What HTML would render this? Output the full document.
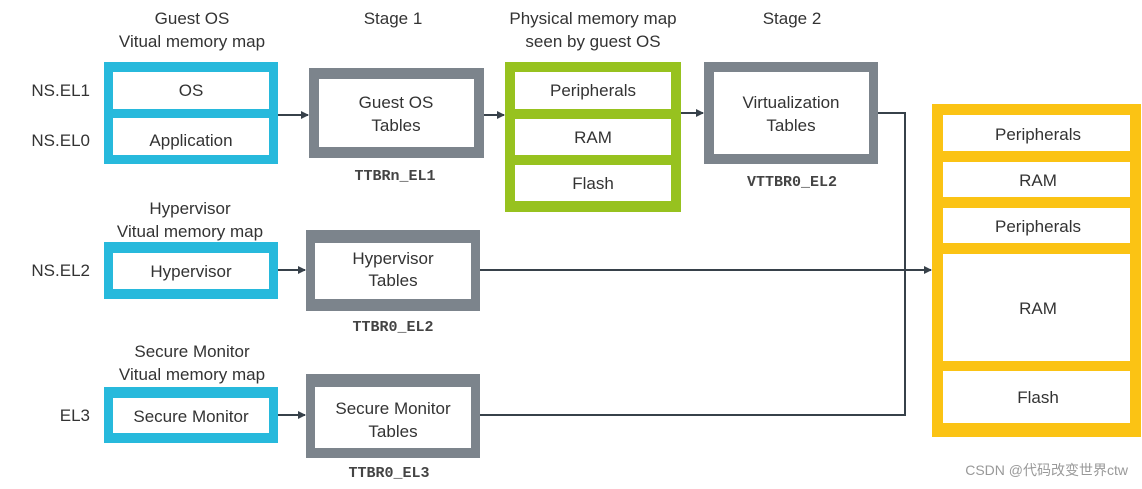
<!DOCTYPE html>
<html><head><meta charset="utf-8"><style>
html,body{margin:0;padding:0;background:#fff;}
svg{display:block;}
text{font-family:"Liberation Sans","DejaVu Sans",sans-serif;fill:#333;font-size:17px;}
.m{font-family:"Liberation Mono",monospace;font-weight:bold;font-size:15px;fill:#444;}
</style></head><body>
<svg width="1142" height="489" viewBox="0 0 1142 489" xmlns="http://www.w3.org/2000/svg">
<defs><marker id="a" markerWidth="8" markerHeight="8" refX="7" refY="4" orient="auto" markerUnits="userSpaceOnUse"><path d="M0,0 L8,4 L0,8 z" fill="#37414a"/></marker></defs>
<g text-anchor="middle">
<text x="192" y="24">Guest OS</text><text x="192" y="47">Vitual memory map</text>
<text x="393" y="24">Stage 1</text>
<text x="593" y="24">Physical memory map</text><text x="593" y="47">seen by guest OS</text>
<text x="792" y="24">Stage 2</text>
<text x="190" y="214">Hypervisor</text><text x="190" y="237">Vitual memory map</text>
<text x="192" y="357">Secure Monitor</text><text x="192" y="380">Vitual memory map</text>
</g>
<g text-anchor="end">
<text x="90" y="96">NS.EL1</text><text x="90" y="146">NS.EL0</text>
<text x="90" y="276">NS.EL2</text><text x="90" y="421">EL3</text>
</g>
<!-- cyan boxes -->
<g fill="#27b9dc">
<rect x="104" y="62" width="174" height="102"/>
<rect x="104" y="242" width="174" height="57"/>
<rect x="104" y="387" width="174" height="56"/>
</g>
<g fill="#fff">
<rect x="113" y="72" width="156" height="37"/><rect x="113" y="118" width="156" height="37"/>
<rect x="113" y="253" width="156" height="36"/><rect x="113" y="398" width="156" height="35"/>
</g>
<!-- gray tables -->
<g fill="#7c848c">
<rect x="309" y="68" width="175" height="90"/>
<rect x="306" y="230" width="174" height="81"/>
<rect x="306" y="374" width="174" height="84"/>
<rect x="704" y="62" width="174" height="102"/>
</g>
<g fill="#fff">
<rect x="319" y="79" width="155" height="68"/>
<rect x="315" y="243" width="156" height="56"/>
<rect x="315" y="387" width="156" height="61"/>
<rect x="714" y="72" width="155" height="82"/>
</g>
<!-- green -->
<rect x="505" y="62" width="176" height="150" fill="#97c21f"/>
<g fill="#fff">
<rect x="515" y="72" width="156" height="37"/><rect x="515" y="119" width="156" height="36"/><rect x="515" y="165" width="156" height="36"/>
</g>
<!-- yellow -->
<rect x="932" y="104" width="209" height="333" fill="#fbc314"/>
<g fill="#fff">
<rect x="943" y="115" width="187" height="36"/><rect x="943" y="162" width="187" height="35"/>
<rect x="943" y="208" width="187" height="35"/><rect x="943" y="254" width="187" height="107"/>
<rect x="943" y="371" width="187" height="52"/>
</g>
<g text-anchor="middle">
<text x="191" y="96">OS</text><text x="191" y="146">Application</text>
<text x="191" y="277">Hypervisor</text><text x="191" y="422">Secure Monitor</text>
<text x="396" y="108">Guest OS</text><text x="396" y="131">Tables</text>
<text x="393" y="264">Hypervisor</text><text x="393" y="286">Tables</text>
<text x="393" y="414">Secure Monitor</text><text x="393" y="437">Tables</text>
<text x="791" y="108">Virtualization</text><text x="791" y="131">Tables</text>
<text x="593" y="96">Peripherals</text><text x="593" y="143">RAM</text><text x="593" y="189">Flash</text>
<text x="1038" y="140">Peripherals</text><text x="1038" y="186">RAM</text><text x="1038" y="232">Peripherals</text>
<text x="1038" y="314">RAM</text><text x="1038" y="403">Flash</text>
<text class="m" x="395" y="180">TTBRn_EL1</text>
<text class="m" x="393" y="331">TTBR0_EL2</text>
<text class="m" x="389" y="477">TTBR0_EL3</text>
<text class="m" x="792" y="186">VTTBR0_EL2</text>
</g>
<g stroke="#37414a" stroke-width="2" fill="none">
<line x1="278" y1="115" x2="308" y2="115" marker-end="url(#a)"/>
<line x1="484" y1="115" x2="504" y2="115" marker-end="url(#a)"/>
<line x1="681" y1="113" x2="703" y2="113" marker-end="url(#a)"/>
<line x1="278" y1="270" x2="305" y2="270" marker-end="url(#a)"/>
<line x1="278" y1="415" x2="305" y2="415" marker-end="url(#a)"/>
<line x1="480" y1="270" x2="931" y2="270" marker-end="url(#a)"/>
<polyline points="878,113 905,113 905,415 480,415"/>
</g>
<text x="1128" y="475" text-anchor="end" style="font-size:14px;fill:#999;font-family:'Liberation Sans','Noto Sans CJK SC',sans-serif">CSDN @代码改变世界ctw</text>
</svg>
</body></html>
